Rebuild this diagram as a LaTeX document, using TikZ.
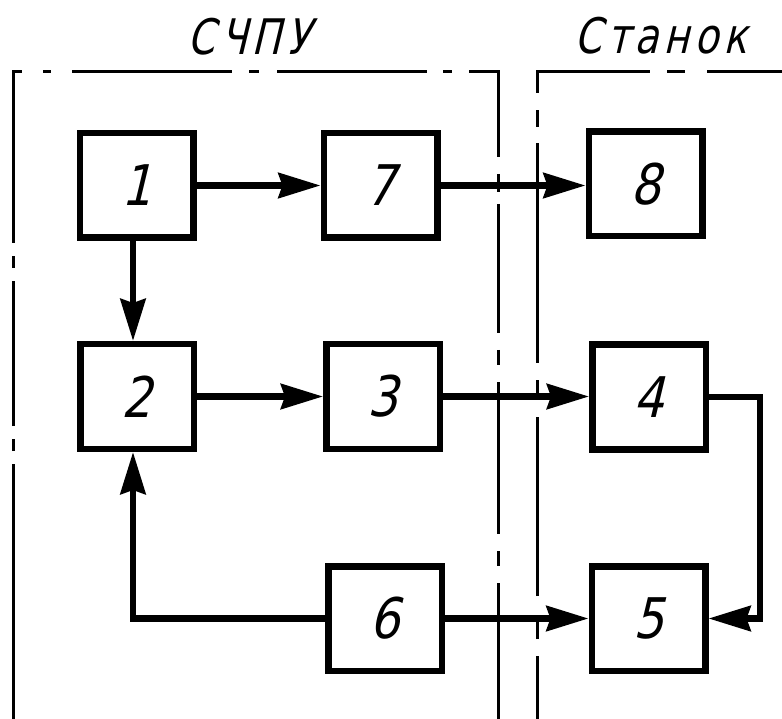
\documentclass[tikz,border=0pt]{standalone}
\usepackage{fontspec}
\usetikzlibrary{arrows.meta}
\newfontfamily\gostfont{DejaVu Sans}[FakeSlant=0.24,FakeStretch=0.85]
\newfontfamily\gosttitle{DejaVu Sans}[FakeSlant=0.24,FakeStretch=0.8,LetterSpace=10]

\begin{document}
\begin{tikzpicture}[x=1pt,y=-1pt,
  block/.style={draw, line width=6.5pt, minimum width=113.5pt, minimum height=104.5pt,
    inner sep=0pt, font=\gostfont\fontsize{56}{56}\selectfont},
  link/.style={line width=6.5pt, line join=miter,
    -{Stealth[length=42pt,width=25pt,inset=4pt]}},
  frameline/.style={line width=3pt, line join=miter},
  title/.style={font=\gosttitle\fontsize{49}{49}\selectfont, inner sep=0pt}]

\useasboundingbox (0,0) rectangle (782,719);

% dash-dot boundaries of the two units
\draw[frameline, dash pattern=on 255pt off 13pt on 12pt off 13pt on 145pt off 13pt on 12pt off 13pt
  on 180pt off 21pt on 8pt off 21pt on 160pt off 17pt on 10pt off 18pt on 150pt off 16pt on 9pt off 17pt
  on 114pt off 17pt on 18pt off 12pt on 129pt off 17pt on 15pt off 17pt on 152pt off 17pt on 15pt off 17pt on 300pt]
  (13,719) -- (13,72) -- (498,72) -- (498,719);
\draw[frameline, dash pattern=on 63pt off 17pt on 17pt off 26pt on 179pt off 21pt on 16pt off 17pt
  on 220pt off 16pt on 17pt off 17pt on 134pt off 17pt on 18pt off 22pt on 200pt]
  (537,719) -- (537,72) -- (782,72);

% unit titles
\node[title] (tcnc) at (249,37) {СЧПУ};
\node[title] (tmach) at (661,36) {Станок};

% blocks
\node[block] (n1) at (136.5,185.5) {1};
\node[block] (n7) at (380.5,185.5) {7};
\node[block] (n8) at (645.5,184) {8};
\node[block] (n2) at (137,396.5) {2};
\node[block] (n3) at (383,396.5) {3};
\node[block] (n4) at (649,397) {4};
\node[block] (n6) at (385,618.5) {6};
\node[block] (n5) at (648.5,618.5) {5};

% routing columns
\coordinate (fx) at (133,0);
\coordinate (rx) at (760,0);

% connections
\draw[link] (n1) -- (n7);
\draw[link] (n7.east) -- (n7.east -| n8.west);
\draw[link] (n1.south -| fx) -- (n2.north -| fx);
\draw[link] (n2) -- (n3);
\draw[link] (n3.east) -- (n3.east -| n4.west);
\draw[link] (n6) -- (n5);
\draw[link] (n4.east) -- (n4.east -| rx) -- (n5.east -| rx) -- (n5.east);
\draw[link] (n6.west) -| (n2.south -| fx);
\end{tikzpicture}
\end{document}
